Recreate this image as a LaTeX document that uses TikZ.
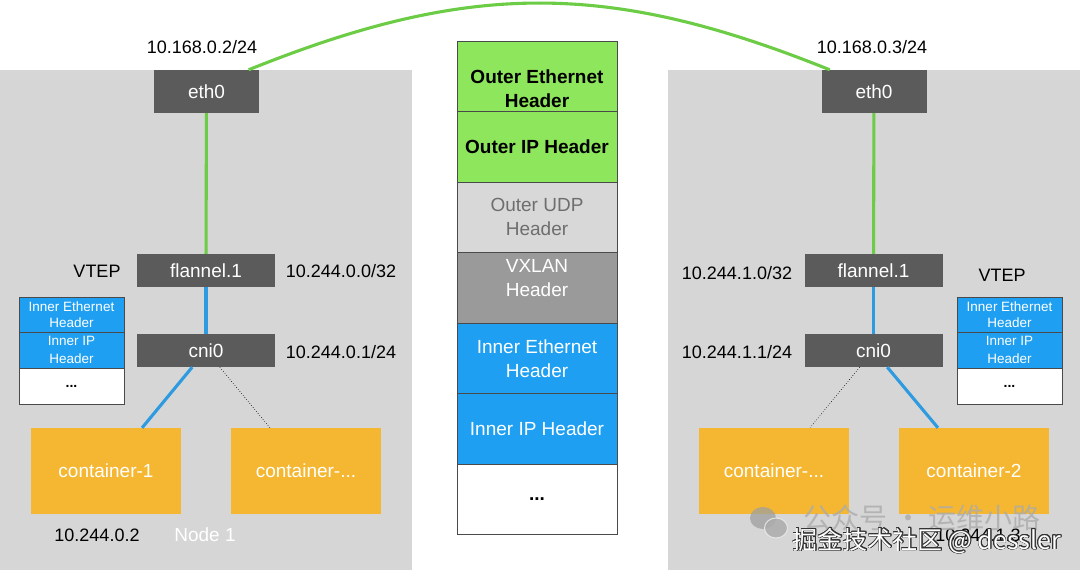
\documentclass[tikz,border=0pt]{standalone}
\usepackage{fontspec}
\setmainfont{Liberation Sans}
\newfontfamily\cjk{Noto Sans CJK SC}
\usepackage{contour}
\contourlength{0.7pt}
\usetikzlibrary{calc}
\definecolor{hostbg}{HTML}{D6D6D6}
\definecolor{devdark}{HTML}{5B5B5B}
\definecolor{contfill}{HTML}{F5B731}
\definecolor{greenfill}{HTML}{8EE65C}
\definecolor{greenline}{HTML}{6CCC46}
\definecolor{bluefill}{HTML}{1E9FF2}
\definecolor{blueline}{HTML}{2E9AE0}
\definecolor{udpfill}{HTML}{D8D8D8}
\definecolor{udptext}{HTML}{6E6E6E}
\definecolor{vxfill}{HTML}{9A9A9A}
\definecolor{cellborder}{HTML}{4A4A4A}
\definecolor{wmgray}{HTML}{ABABAB}
\begin{document}
\begin{tikzpicture}[x=1pt,y=-1pt,
  host/.style={fill=hostbg, draw=none},
  dev/.style={fill=devdark, text=white, inner sep=0pt, font=\fontsize{19}{22}\selectfont},
  cont/.style={fill=contfill, text=white, inner sep=0pt, minimum width=150pt, minimum height=86pt, font=\fontsize{19}{22}\selectfont},
  cell/.style={draw=cellborder, line width=0.6pt, inner sep=0pt, minimum width=160pt, minimum height=70.5pt, align=center, font=\fontsize{19}{24}\selectfont},
  celltext/.style={inner sep=0pt, align=center, font=\fontsize{19}{24}\selectfont},
  minicell/.style={draw=cellborder, line width=0.6pt, inner sep=0pt, minimum width=105pt, align=center, font=\fontsize{13.5}{16}\selectfont},
  lbl/.style={inner sep=0pt, font=\fontsize{18}{22}\selectfont},
  gline/.style={draw=greenline, line width=3.1pt},
  bline/.style={draw=blueline, line width=3.1pt},
  dline/.style={draw=black, line width=0.6pt, dotted}]
\useasboundingbox (0,0) rectangle (1080,570);

% hosts
\path[host] (0,70) rectangle (412,570);
\path[host] (668,70) rectangle (1080,570);

% devices
\node[dev, minimum width=105pt, minimum height=43pt] (ethL) at (206.5,91.5) {eth0};
\node[dev, minimum width=105pt, minimum height=43pt] (ethR) at (874,91.5) {eth0};
\node[dev, minimum width=138pt, minimum height=33pt] (flL) at (206,270.5) {flannel.1};
\node[dev, minimum width=138pt, minimum height=33pt] (flR) at (873.5,270.5) {flannel.1};
\node[dev, minimum width=138pt, minimum height=33pt] (cniL) at (206,350.5) {cni0};
\node[dev, minimum width=138pt, minimum height=33pt] (cniR) at (873.5,350.5) {cni0};

% containers
\node[cont] (c1) at (106,471) {container-1};
\node[cont] (cL2) at (306,471) {container-...};
\node[cont] (cR1) at (774,471) {container-...};
\node[cont] (c2) at (974,471) {container-2};

% connectors
\draw[gline] ($(ethL.north west)!0.9!(ethL.north east)$) .. controls +(221,-89) and +(-221,-89) .. ($(ethR.north west)!0.08!(ethR.north east)$);
\draw[gline] (ethL) -- (flL);
\draw[gline] (ethR) -- (flR);
\draw[bline] (flL) -- (cniL);
\draw[bline] (flR) -- (cniR);
\draw[bline] ($(cniL.south west)!0.4!(cniL.south east)$) -- ($(c1.north west)!0.74!(c1.north east)$);
\draw[dline] ($(cniL.south west)!0.6!(cniL.south east)$) -- ($(cL2.north west)!0.26!(cL2.north east)$);
\draw[dline] ($(cniR.south west)!0.4!(cniR.south east)$) -- ($(cR1.north west)!0.74!(cR1.north east)$);
\draw[bline] ($(cniR.south west)!0.6!(cniR.south east)$) -- ($(c2.north west)!0.26!(c2.north east)$);

% central packet stack
\node[cell, fill=greenfill] (s1) at (537,76.25) {};
\node[celltext, font=\fontsize{19}{24}\selectfont\bfseries] (t1) at ($(s1.center)+(0,12)$) {Outer Ethernet\\Header};
\node[cell, fill=greenfill, font=\fontsize{19}{24}\selectfont\bfseries] (s2) at (537,146.75) {Outer IP Header};
\node[cell, fill=udpfill, text=udptext] (s3) at (537,217.25) {Outer UDP\\Header};
\node[cell, fill=vxfill] (s4) at (537,287.75) {};
\node[celltext, text=white] (t4) at ($(s4.center)+(0,-10)$) {VXLAN\\Header};
\node[cell, fill=bluefill, text=white] (s5) at (537,358.25) {Inner Ethernet\\Header};
\node[cell, fill=bluefill, text=white] (s6) at (537,428.75) {Inner IP Header};
\node[cell, fill=white, font=\fontsize{19}{24}\selectfont\bfseries] (s7) at (537,499.25) {...};

% small stacks
\node[minicell, fill=bluefill, text=white, minimum height=35pt] (mL1) at (71.5,314.5) {Inner Ethernet\\Header};
\node[minicell, fill=bluefill, text=white, minimum height=36pt, font=\fontsize{13.5}{18}\selectfont] (mL2) at (71.5,350) {Inner IP\\Header};
\node[minicell, fill=white, minimum height=36pt, font=\fontsize{14}{16}\selectfont\bfseries] (mL3) at (71.5,386) {...};
\node[minicell, fill=bluefill, text=white, minimum height=35pt] (mR1) at (1009.5,314.5) {Inner Ethernet\\Header};
\node[minicell, fill=bluefill, text=white, minimum height=36pt, font=\fontsize{13.5}{18}\selectfont] (mR2) at (1009.5,350) {Inner IP\\Header};
\node[minicell, fill=white, minimum height=36pt, font=\fontsize{14}{16}\selectfont\bfseries] (mR3) at (1009.5,386) {...};

% labels
\node[lbl] (ipL) at (202,47) {10.168.0.2/24};
\node[lbl] (ipR) at (872,47) {10.168.0.3/24};
\node[lbl] (vtepL) at (97,271) {VTEP};
\node[lbl] (flipL) at (341,271) {10.244.0.0/32};
\node[lbl] (cniipL) at (341,352) {10.244.0.1/24};
\node[lbl] (flipR) at (737,273) {10.244.1.0/32};
\node[lbl] (vtepR) at (1002,275) {VTEP};
\node[lbl] (cniipR) at (737,352) {10.244.1.1/24};
\node[lbl] (c1ip) at (97,535) {10.244.0.2};
\node[lbl, text=white, font=\fontsize{19}{22}\selectfont] (node1) at (205,535) {Node 1};
\node[lbl] (c2ip) at (978,535) {10.244.1.3};

% watermark
\fill[gray!75, opacity=0.75] (763,518) ellipse (13pt and 11pt);
\filldraw[fill=gray!65, draw=white!85!gray, line width=1pt, opacity=0.85] (776,528) ellipse (11.5pt and 10pt);
\node[lbl, text=wmgray, opacity=0.8, font=\cjk\fontsize{28}{30}\selectfont] (wm1) at (922,518) {公众号 · 运维小路};
\node[lbl, text=white, font=\cjk\fontsize{25}{28}\selectfont] (wm2) at (927,541) {\contour{black!80}{掘金技术社区 @ dessler}};
\end{tikzpicture}
\end{document}
